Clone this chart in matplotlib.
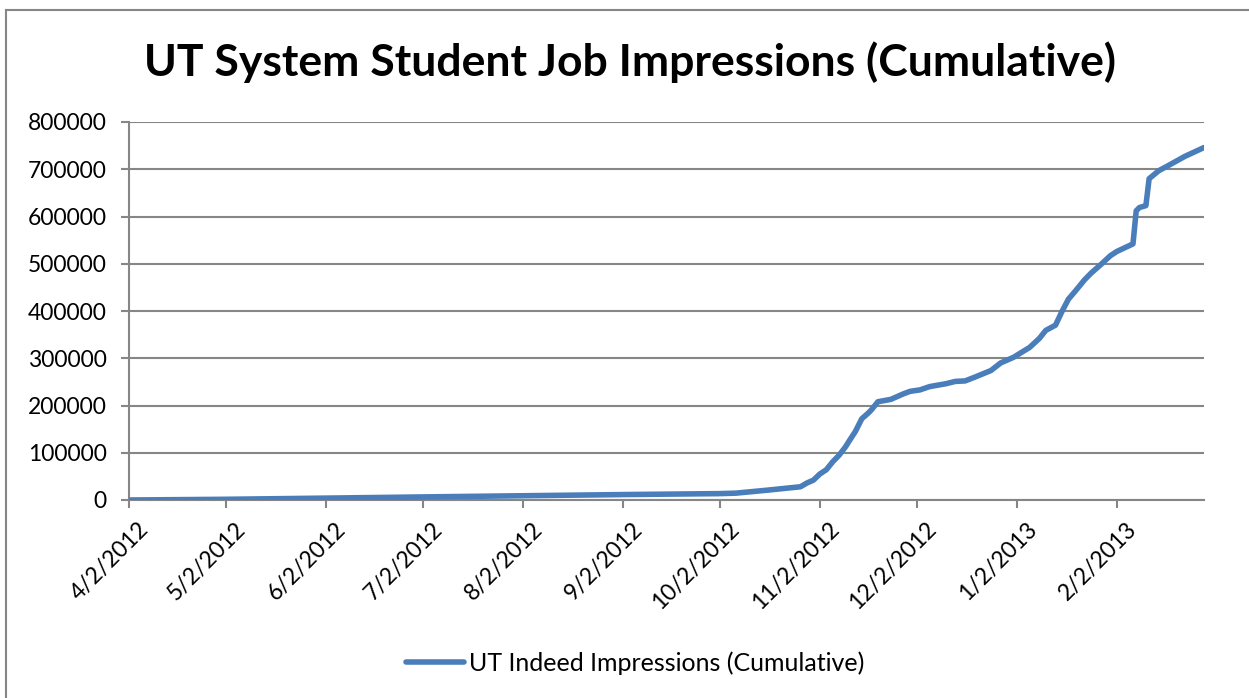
import matplotlib
matplotlib.use("Agg")
import matplotlib.pyplot as plt
import matplotlib.dates as mdates
import matplotlib.transforms as mtransforms
from matplotlib.lines import Line2D
from matplotlib.ticker import MultipleLocator, FuncFormatter
import pandas as pd

plt.rcParams['font.family'] = ['Lato', 'DejaVu Sans']

# cumulative impressions
dates = ["2012-04-02", "2012-05-02", "2012-06-02", "2012-07-02", "2012-08-02",
         "2012-09-02", "2012-10-02", "2012-10-07", "2012-10-17", "2012-10-27",
         "2012-10-29", "2012-10-31", "2012-11-02", "2012-11-04", "2012-11-06",
         "2012-11-08", "2012-11-10", "2012-11-11", "2012-11-13", "2012-11-15",
         "2012-11-17", "2012-11-18", "2012-11-20", "2012-11-24", "2012-11-28",
         "2012-11-30", "2012-12-03", "2012-12-06", "2012-12-11", "2012-12-14",
         "2012-12-17", "2012-12-20", "2012-12-25", "2012-12-28", "2013-01-01",
         "2013-01-06", "2013-01-09", "2013-01-11", "2013-01-14", "2013-01-16",
         "2013-01-18", "2013-01-20", "2013-01-23", "2013-01-25", "2013-01-28",
         "2013-01-31", "2013-02-02", "2013-02-07", "2013-02-08", "2013-02-09",
         "2013-02-11", "2013-02-12", "2013-02-15", "2013-02-18", "2013-02-23",
         "2013-03-01"]
impressions = [0, 1500, 4000, 6500, 9000,
               11500, 13500, 14500, 21000, 28000,
               36000, 42000, 55000, 64000, 81000,
               95000, 113000, 124000, 145000, 172000,
               184000, 191000, 208000, 213000, 225000,
               230000, 233000, 240000, 246000, 251000,
               252000, 260000, 274000, 290000, 302000,
               323000, 342000, 359000, 370000, 399000,
               425000, 441000, 466000, 480000, 498000,
               517000, 526000, 542000, 612000, 619000,
               623000, 680000, 697000, 708000, 727000,
               746000]
tick_dates = ["2012-04-02", "2012-05-02", "2012-06-02", "2012-07-02",
              "2012-08-02", "2012-09-02", "2012-10-02", "2012-11-02",
              "2012-12-02", "2013-01-02", "2013-02-02"]
series_name = "UT Indeed Impressions (Cumulative)"
title = "UT System Student Job Impressions (Cumulative)"

x = pd.to_datetime(dates)
ticks = pd.to_datetime(tick_dates)

W, H = 1249, 698
fig = plt.figure(figsize=(W / 100, H / 100), dpi=100)
ax = fig.add_axes([129 / W, 1 - 500 / H, (1204 - 129) / W, (500 - 122) / H])

grey = "#868686"
ax.plot(x, impressions, color="#4A7EBB", lw=4, solid_capstyle="round",
        solid_joinstyle="round", label=series_name, zorder=3)

ax.set_xlim(x[0], x[-1])
ax.set_ylim(0, 800000)
ax.yaxis.set_major_locator(MultipleLocator(100000))
ax.yaxis.set_major_formatter(FuncFormatter(lambda v, p: f"{int(v)}"))
ax.set_xticks(mdates.date2num(ticks))
ax.set_xticklabels([f"{d.month}/{d.day}/{d.year}" for d in ticks],
                   rotation=45, ha="right", va="top", rotation_mode="anchor")

ax.grid(axis="y", color=grey, lw=1.5)
ax.set_axisbelow(True)
for s in ["top", "right"]:
    ax.spines[s].set_visible(False)
for s in ["left", "bottom"]:
    ax.spines[s].set_color(grey)
    ax.spines[s].set_linewidth(1.5)
ax.tick_params(axis="both", colors=grey, width=1.5, length=6, labelsize=16.5,
               labelcolor="black")
ax.tick_params(axis="y", pad=10)
ax.tick_params(axis="x", pad=7)

# nudge the slanted date labels a little to the right, like the original
shift = mtransforms.ScaledTranslation(9 / 100, 0, fig.dpi_scale_trans)
for lab in ax.get_xticklabels():
    lab.set_transform(lab.get_transform() + shift)

fig.text(630 / W, 1 - 62 / H, title, ha="center", va="center",
         fontsize=32, fontweight="bold")

fig.legend(loc="center", bbox_to_anchor=(635 / W, 1 - 663 / H), frameon=False,
           fontsize=18, handlelength=2.3, handletextpad=0.2)

# outer chart frame (top and left edge visible)
fig.add_artist(Line2D([6 / W, 1], [1 - 10 / H, 1 - 10 / H], color=grey, lw=1.5,
                      transform=fig.transFigure))
fig.add_artist(Line2D([6 / W, 6 / W], [0, 1 - 10 / H], color=grey, lw=1.5,
                      transform=fig.transFigure))

fig.savefig("out.png", dpi=100, facecolor="white")
